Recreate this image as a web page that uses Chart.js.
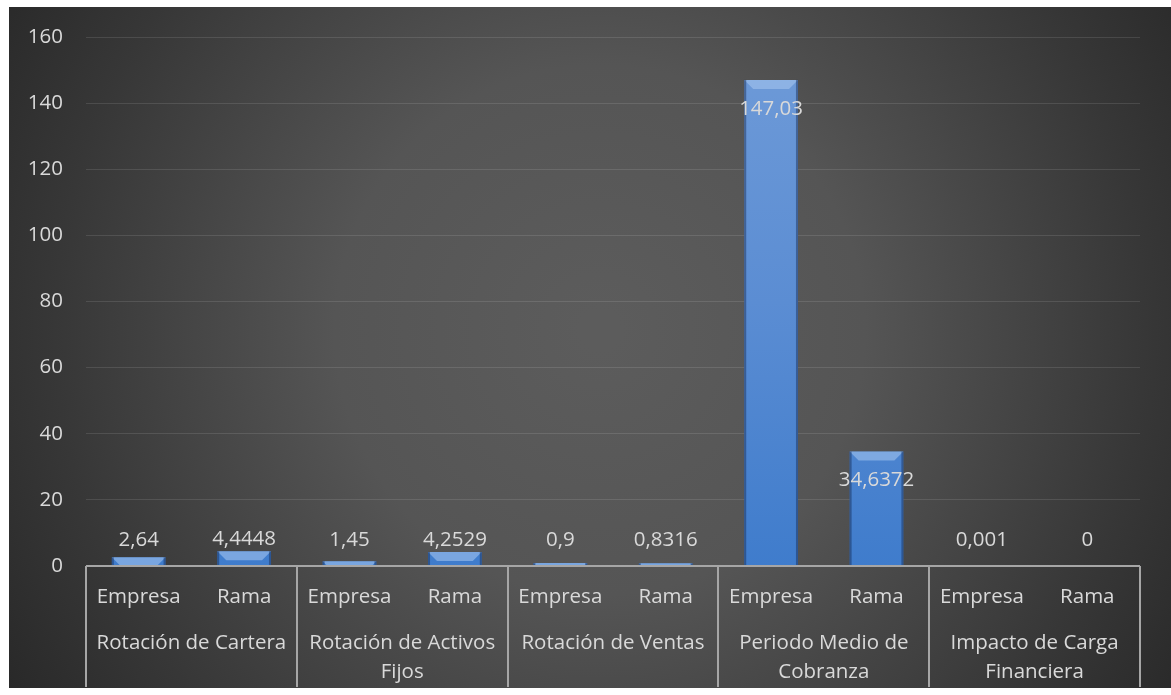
<!DOCTYPE html>
<html>
<head>
<meta charset="utf-8">
<script src="https://cdn.jsdelivr.net/npm/chart.js@4/dist/chart.umd.min.js"></script>
<style>
  html, body { margin: 0; padding: 0; background: #ffffff; }
  #wrap { width: 1171px; height: 695px; position: relative; }
</style>
</head>
<body>
<div id="wrap"><canvas id="c" width="1171" height="695"></canvas></div>
<script>
// Indicator groups and the two series compared in each
const groups = [
  ['Rotación de Cartera'],
  ['Rotación de Activos', 'Fijos'],
  ['Rotación de Ventas'],
  ['Periodo Medio de', 'Cobranza'],
  ['Impacto de Carga', 'Financiera']
];
const subLabels = ['Empresa', 'Rama'];
const empresaValues = [2.64, 1.45, 0.9, 147.03, 0.001];
const ramaValues = [4.4448, 4.2529, 0.8316, 34.6372, 0];
const valueTicks = [0, 20, 40, 60, 80, 100, 120, 140, 160];

// Flatten into one category per bar: Empresa, Rama, Empresa, Rama, ...
const labels = [];
const values = [];
groups.forEach((g, i) => {
  labels.push(subLabels[0]); values.push(empresaValues[i]);
  labels.push(subLabels[1]); values.push(ramaValues[i]);
});

const FONT = '"Open Sans", "Noto Sans", sans-serif';
const FONT_SIZE = 20.5;
const TEXT = '#d9d9d9';

const fmt = v => String(v).replace('.', ',');

// Dark panel with a soft radial highlight in the middle
const backgroundPlugin = {
  id: 'panel',
  beforeDraw(chart) {
    const ctx = chart.ctx;
    ctx.save();
    ctx.fillStyle = '#ffffff';
    ctx.fillRect(0, 0, chart.width, chart.height);
    const x0 = 9, y0 = 7, x1 = chart.width, y1 = 688;
    const g = ctx.createRadialGradient(600, 330, 20, 600, 330, 720);
    g.addColorStop(0, '#5c5c5c');
    g.addColorStop(0.35, '#555555');
    g.addColorStop(0.75, '#373737');
    g.addColorStop(1, '#262626');
    ctx.fillStyle = g;
    ctx.fillRect(x0, y0, x1 - x0, y1 - y0);
    ctx.restore();
  }
};

// Bevel highlight on top of each bar
const bevelPlugin = {
  id: 'bevel',
  afterDatasetsDraw(chart) {
    const ctx = chart.ctx;
    const meta = chart.getDatasetMeta(0);
    ctx.save();
    meta.data.forEach(bar => {
      const { x, y, base, width } = bar.getProps(['x', 'y', 'base', 'width'], true);
      const h = base - y;
      if (h < 1) return;
      const l = x - width / 2, r = x + width / 2;
      const b = Math.min(9, h);
      ctx.fillStyle = 'rgba(170,200,240,0.55)';
      ctx.beginPath();
      ctx.moveTo(l, y); ctx.lineTo(r, y); ctx.lineTo(r - b, y + b); ctx.lineTo(l + b, y + b);
      ctx.closePath(); ctx.fill();
      // darker side edges
      ctx.fillStyle = 'rgba(20,40,80,0.45)';
      ctx.fillRect(l, y, 2, h);
      ctx.fillRect(r - 2, y, 2, h);
    });
    ctx.restore();
  }
};

// Value labels: inside the top of tall bars, above short ones
const valueLabelPlugin = {
  id: 'valueLabels',
  afterDatasetsDraw(chart) {
    const ctx = chart.ctx;
    const meta = chart.getDatasetMeta(0);
    const zero = chart.scales.y.getPixelForValue(0);
    ctx.save();
    ctx.font = FONT_SIZE + 'px ' + FONT;
    ctx.fillStyle = TEXT;
    ctx.textAlign = 'center';
    ctx.textBaseline = 'middle';
    meta.data.forEach((bar, i) => {
      const v = values[i];
      const h = zero - bar.y;
      let ly;
      if (h > 40) ly = bar.y + 29;
      else ly = Math.min(bar.y - 12, zero - 26);
      ctx.fillText(fmt(v), bar.x, ly);
    });
    ctx.restore();
  }
};

// Two-level category axis: group names under each pair, with separators
const groupAxisPlugin = {
  id: 'groupAxis',
  afterDraw(chart) {
    const ctx = chart.ctx;
    const xs = chart.scales.x;
    const area = chart.chartArea;
    const step = xs.getPixelForValue(1) - xs.getPixelForValue(0);
    const bottom = 687;
    ctx.save();
    ctx.strokeStyle = '#a6a6a6';
    ctx.lineWidth = 2;
    // horizontal axis line
    ctx.beginPath();
    ctx.moveTo(area.left, area.bottom);
    ctx.lineTo(area.right, area.bottom);
    ctx.stroke();
    // separators between groups
    for (let i = 0; i <= groups.length; i++) {
      const px = Math.round(xs.getPixelForValue(i * 2) - step / 2);
      ctx.beginPath();
      ctx.moveTo(px, area.bottom);
      ctx.lineTo(px, bottom);
      ctx.stroke();
    }
    ctx.font = FONT_SIZE + 'px ' + FONT;
    ctx.fillStyle = TEXT;
    ctx.textAlign = 'center';
    ctx.textBaseline = 'middle';
    groups.forEach((g, i) => {
      const cx = (xs.getPixelForValue(i * 2) + xs.getPixelForValue(i * 2 + 1)) / 2;
      g.forEach((line, j) => ctx.fillText(line, cx, 643 + j * 29));
    });
    ctx.restore();
  }
};

const ctx = document.getElementById('c').getContext('2d');

function barFill(context) {
  const chart = context.chart;
  const area = chart.chartArea;
  if (!area) return '#4f81bd';
  const g = chart.ctx.createLinearGradient(0, area.top, 0, area.bottom);
  g.addColorStop(0, '#6f9bd8');
  g.addColorStop(0.5, '#5b8dd3');
  g.addColorStop(1, '#3f7ccc');
  return g;
}

new Chart(ctx, {
  type: 'bar',
  data: {
    labels: labels,
    datasets: [{
      data: values,
      backgroundColor: barFill,
      borderWidth: 0,
      categoryPercentage: 1,
      barPercentage: 0.51
    }]
  },
  options: {
    responsive: false,
    animation: false,
    devicePixelRatio: 1,
    layout: { padding: { left: 0, right: 31, top: 37, bottom: 0 } },
    plugins: { legend: { display: false }, tooltip: { enabled: false } },
    scales: {
      x: {
        grid: { display: false, drawTicks: false },
        border: { display: false },
        ticks: {
          color: TEXT,
          font: { family: FONT, size: FONT_SIZE },
          padding: 19,
          maxRotation: 0,
          autoSkip: false
        },
        afterFit(s) { s.height = 695 - 566; }
      },
      y: {
        min: 0,
        max: 160,
        afterBuildTicks(s) { s.ticks = valueTicks.map(v => ({ value: v })); },
        grid: { color: 'rgba(255,255,255,0.11)', lineWidth: 1, drawTicks: false },
        border: { display: false },
        ticks: {
          color: TEXT,
          font: { family: FONT, size: FONT_SIZE },
          padding: 23
        },
        afterFit(s) { s.width = 86; }
      }
    }
  },
  plugins: [backgroundPlugin, bevelPlugin, valueLabelPlugin, groupAxisPlugin]
});
</script>
</body>
</html>
